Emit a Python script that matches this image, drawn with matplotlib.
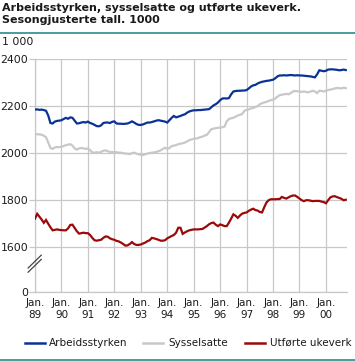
import matplotlib
matplotlib.use("Agg")
import matplotlib.pyplot as plt
from matplotlib.lines import Line2D
import numpy as np

# ---- data (monthly, Jan 1989 - Oct 2000), 1000 persons / weeks ----
arbeidsstyrken = [
    2185, 2186, 2184, 2185, 2183, 2180, 2160, 2128, 2126, 2134, 2137, 2138,
    2140, 2145, 2150, 2146, 2152, 2150, 2138, 2126, 2127, 2130, 2132, 2130,
    2134, 2128, 2125, 2120, 2115, 2114, 2118, 2128, 2130, 2130, 2128, 2133,
    2135, 2126, 2125, 2125, 2124, 2125, 2126, 2130, 2135, 2130, 2124, 2120,
    2120, 2122, 2126, 2130, 2130, 2132, 2135, 2138, 2140, 2138, 2136, 2134,
    2130, 2140, 2150, 2158, 2152, 2155, 2158, 2162, 2165, 2172, 2177, 2180,
    2182, 2182, 2183, 2183, 2184, 2185, 2186, 2187, 2195, 2203, 2208, 2215,
    2225, 2232, 2233, 2232, 2234, 2250, 2262, 2264, 2265, 2265, 2266, 2266,
    2268, 2275, 2283, 2288, 2290, 2296, 2300, 2303, 2305, 2307, 2308, 2310,
    2312, 2318, 2326, 2330, 2330, 2331, 2330, 2331, 2332, 2331, 2330, 2331,
    2330, 2330, 2329, 2328, 2327, 2326, 2324, 2322, 2335, 2352, 2350, 2348,
    2350, 2355, 2356, 2356, 2355, 2354, 2352, 2353, 2355, 2353,
]
sysselsatte = [
    2082, 2080, 2080, 2078, 2074, 2068, 2045, 2022, 2018, 2024, 2026, 2025,
    2028, 2030, 2034, 2036, 2038, 2032, 2020, 2015, 2020, 2022, 2020, 2018,
    2020, 2012, 2003, 2002, 2004, 2002, 2005, 2010, 2012, 2008, 2005, 2004,
    2005, 2004, 2002, 2002, 2000, 1998, 1998, 1996, 2000, 2002, 1998, 1995,
    1993, 1992, 1995, 1998, 2000, 2002, 2003, 2005, 2008, 2012, 2018, 2023,
    2018, 2022, 2030, 2032, 2034, 2038, 2040, 2042, 2045, 2050, 2055, 2058,
    2061, 2062, 2064, 2068, 2070, 2075, 2078, 2090, 2102, 2104, 2106, 2108,
    2108, 2110, 2113, 2135, 2145, 2148, 2150, 2155, 2160, 2163, 2166, 2180,
    2184, 2186, 2190, 2192, 2196, 2200, 2208, 2212, 2215, 2218, 2222, 2225,
    2227, 2232, 2240, 2246, 2248, 2250, 2252, 2250, 2255, 2262, 2264, 2263,
    2262, 2260, 2262, 2260, 2258, 2262, 2265, 2262, 2255, 2265, 2264, 2262,
    2265, 2268, 2270, 2272, 2275, 2277, 2276, 2275, 2278, 2276,
]
utforte_ukeverk = [
    1722, 1742, 1730, 1718, 1704, 1716, 1700, 1685, 1672, 1674, 1676, 1674,
    1673, 1672, 1672, 1680, 1695, 1696, 1682, 1668, 1658, 1660, 1662, 1660,
    1660, 1652, 1640, 1630, 1628, 1630, 1632, 1640, 1646, 1645, 1638, 1634,
    1632, 1627, 1625, 1620, 1614, 1607, 1608, 1614, 1622, 1614, 1610, 1610,
    1612, 1616, 1620, 1626, 1630, 1640, 1638, 1635, 1632, 1628, 1628, 1630,
    1638, 1643, 1648, 1652, 1662, 1683, 1683, 1657, 1663, 1668, 1672, 1674,
    1676, 1676, 1676, 1677, 1678, 1684, 1690, 1698, 1703, 1705, 1696, 1690,
    1697, 1694, 1690, 1690, 1705, 1722, 1740, 1734, 1725, 1735, 1743, 1746,
    1748, 1755, 1760, 1764, 1758, 1756, 1750, 1748, 1770, 1790, 1800, 1804,
    1804, 1804, 1805, 1805, 1814, 1810, 1807, 1812, 1817, 1820, 1820, 1814,
    1807, 1800, 1796, 1800, 1800, 1798, 1796, 1797, 1797, 1797, 1794, 1792,
    1787, 1800, 1812, 1816, 1817, 1813, 1810, 1806, 1800, 1802,
]
start_year = 1989
series_names = ["Arbeidsstyrken", "Sysselsatte", "Utførte ukeverk"]
series_colors = ["#0a3296", "#c8c8c8", "#9b0a0a"]
year_ticks = list(range(1989, 2001))
year_labels = ["Jan.\n%02d" % (y % 100) for y in year_ticks]
y_ticks = [1410, 1600, 1800, 2000, 2200, 2400]
y_tick_labels = ["0", "1600", "1800", "2000", "2200", "2400"]

months = np.arange(len(arbeidsstyrken))
x = start_year + months / 12.0

W, H = 355, 361
fig = plt.figure(figsize=(W / 100, H / 100), dpi=100)
fig.patch.set_facecolor("white")

txt_color = "#1a1a1a"
grid_color = "#c8c8c8"
teal = "#2a8c8c"
fs = 7.5

ax = fig.add_axes([35 / W, (H - 292) / H, (347 - 35) / W, (292 - 59) / H])
for vals, col, name in zip([arbeidsstyrken, sysselsatte, utforte_ukeverk], series_colors, series_names):
    ax.plot(x, vals, color=col, lw=1.6, label=name, solid_joinstyle="miter", zorder=3)

ax.set_xlim(1989, 1989 + (347 - 35) / 26.45)
ax.set_ylim(1410, 2400)
ax.set_yticks(y_ticks)
ax.set_yticklabels(y_tick_labels)
ax.set_xticks(year_ticks)
ax.set_xticklabels(year_labels)
ax.grid(True, color=grid_color, lw=0.9, zorder=0)
for s in ["top", "right"]:
    ax.spines[s].set_visible(False)
for s in ["left", "bottom"]:
    ax.spines[s].set_color(grid_color)
    ax.spines[s].set_linewidth(0.9)
ax.tick_params(axis="y", length=4, color=grid_color, width=0.9, labelsize=fs + 0.3, labelcolor=txt_color, pad=1)
ax.tick_params(axis="x", length=0, labelsize=fs, labelcolor=txt_color, pad=4)
for lbl in ax.get_xticklabels():
    lbl.set_linespacing(1.35)

# axis break marks
for dy in (0.0, 0.018):
    ax.plot([-0.022, 0.02], [0.085 + dy, 0.14 + dy], transform=ax.transAxes,
            color="#444444", lw=0.9, clip_on=False, zorder=5)

# title
fig.text(2 / W, 1 - 3 / H, "Arbeidsstyrken, sysselsatte og utførte ukeverk.\nSesongjusterte tall. 1000",
         ha="left", va="top", fontsize=8.0, fontweight="bold", color=txt_color, linespacing=1.2)
fig.add_artist(Line2D([0, 1], [1 - 33 / H, 1 - 33 / H], color=teal, lw=1.2))
fig.add_artist(Line2D([0, 1], [1 - 359.5 / H, 1 - 359.5 / H], color=teal, lw=1.2))
fig.text(2 / W, 1 - 42 / H, "1 000", ha="left", va="center", fontsize=fs + 0.3, color=txt_color)

# legend drawn manually in figure pixel positions
leg_y = 1 - 343 / H
leg_line_x = [(25, 45), (143, 163), (245, 265)]
leg_text_x = [49, 168, 270]
for (x0, x1), tx, col, name in zip(leg_line_x, leg_text_x, series_colors, series_names):
    fig.add_artist(Line2D([x0 / W, x1 / W], [leg_y, leg_y], color=col, lw=1.8))
    fig.text(tx / W, leg_y, name, ha="left", va="center", fontsize=fs, color=txt_color)

fig.savefig("out.png", dpi=100, facecolor="white")
